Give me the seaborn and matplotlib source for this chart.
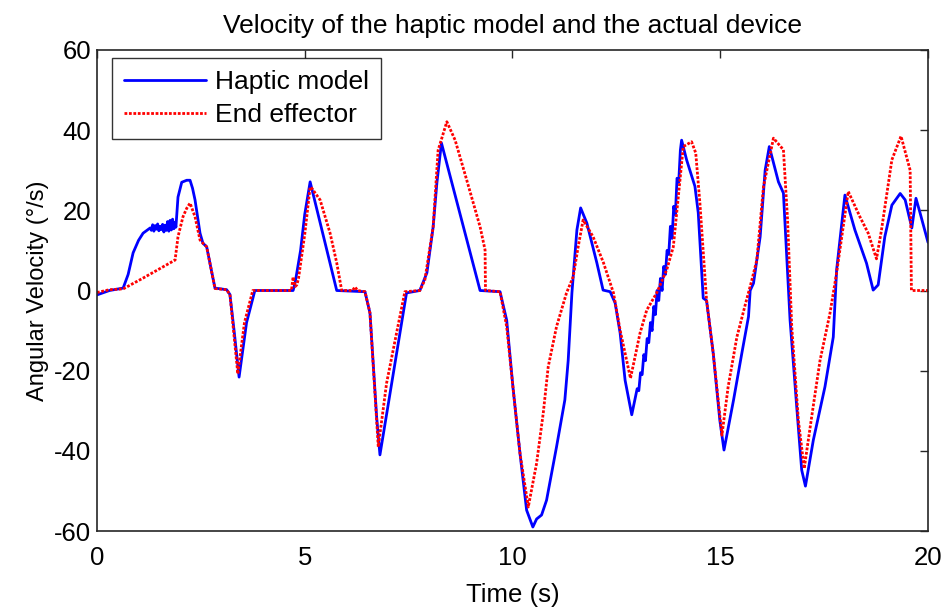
import matplotlib
matplotlib.use("Agg")
import matplotlib.pyplot as plt
import seaborn as sns
import pandas as pd

# Haptic model angular velocity (deg/s) sampled at key instants (s)
t_model = [0.0, 0.3, 0.63, 0.75, 0.87, 1.0, 1.11, 1.2, 1.28,
           1.31, 1.34, 1.37, 1.40, 1.43, 1.46, 1.49, 1.52, 1.55, 1.58, 1.61,
           1.64, 1.67, 1.70, 1.73, 1.76, 1.79, 1.82, 1.85, 1.88, 1.90,
           1.95, 2.04, 2.16, 2.24, 2.30, 2.36, 2.48, 2.55, 2.64, 2.84, 3.12,
           3.2, 3.3, 3.42, 3.6, 3.8, 4.72, 4.77, 4.9, 5.0, 5.13, 5.77, 6.45,
           6.57, 6.73, 6.81, 7.45, 7.77, 7.94, 8.09, 8.18, 8.29, 9.22, 9.70,
           9.86, 10.01, 10.18, 10.34, 10.49, 10.58, 10.70, 10.82, 11.06, 11.26,
           11.34, 11.43, 11.55, 11.64, 11.79, 12.03, 12.18, 12.35, 12.47, 12.59,
           12.71, 12.87,
           12.95, 13.00, 13.04, 13.08, 13.12, 13.16, 13.20, 13.24, 13.28, 13.32,
           13.36, 13.40, 13.44, 13.48, 13.52, 13.56, 13.60, 13.64, 13.68, 13.72,
           13.76, 13.80, 13.84, 13.88, 13.92, 13.96, 14.00, 14.04,
           14.07, 14.19, 14.39, 14.47, 14.59, 14.67, 14.83, 14.99, 15.09, 15.32,
           15.52, 15.68, 15.72, 15.80, 15.96, 16.08, 16.18, 16.40, 16.52, 16.68,
           16.84, 16.96, 17.05, 17.24, 17.52, 17.72, 17.80, 18.00, 18.24, 18.41,
           18.52, 18.68, 18.80, 18.96, 19.13, 19.33, 19.45, 19.61, 19.71, 19.81,
           20.0]
v_model = [-1.1, 0.0, 0.6, 4.0, 9.4, 12.5, 14.3, 15.0, 15.6,
           15.0, 16.4, 14.8, 16.2, 15.3, 16.6, 14.9, 16.0, 15.2, 16.5, 14.6,
           16.3, 15.0, 17.2, 14.8, 17.5, 15.1, 17.8, 15.4, 17.0, 15.8,
           23.3, 27.0, 27.5, 27.5, 25.5, 22.6, 14.3, 11.8, 10.9, 0.6, 0.2,
           -1.0, -10.0, -21.6, -8.0, 0.0, 0.0, 2.0, 10.0, 19.0, 27.1, 0.0, -0.3,
           -5.6, -31.5, -41.0, -0.6, 0.0, 4.4, 15.8, 26.8, 36.8, 0.0, -0.3,
           -7.4, -24.0, -40.6, -54.8, -59.0, -57.0, -56.0, -52.3, -39.0, -27.3,
           -17.5, -0.6, 15.1, 20.6, 16.8, 6.9, 0.1, -0.3, -3.1, -10.6,
           -22.4, -31.0,
           -27.0, -24.5, -25.0, -20.5, -21.0, -16.0, -17.5, -12.0, -13.0, -8.0,
           -10.0, -4.0, -6.0, 0.0, -2.5, 3.0, 0.0, 6.0, 4.0, 10.0,
           9.0, 16.0, 13.0, 21.0, 19.0, 28.0, 27.0, 35.0,
           37.5, 32.6, 26.0, 19.4, -1.9, -2.5, -15.6, -32.4, -39.8, -27.3,
           -15.6, -6.5, 0.0, 1.8, 13.4, 30.0, 35.9, 27.1, 24.3, -7.4,
           -29.0, -44.8, -48.8, -37.3, -24.0, -11.6, 5.1, 23.8, 15.1, 10.1,
           6.8, 0.1, 1.4, 13.4, 21.3, 24.2, 22.6, 15.6, 23.0, 19.3,
           12.0]

# End effector angular velocity (deg/s) sampled at key instants (s)
t_device = [0.0, 0.3, 0.63, 1.11, 1.59, 1.88, 1.95, 2.07, 2.16, 2.24, 2.36,
            2.48, 2.55, 2.64, 2.84, 3.12, 3.2, 3.39, 3.55, 3.75, 4.68, 4.72,
            4.77, 4.81, 4.85, 5.0, 5.13, 5.17, 5.37, 5.61, 5.77, 5.89, 6.15,
            6.21, 6.27, 6.45, 6.57, 6.77, 6.97, 7.21, 7.41, 7.77, 7.89, 8.09,
            8.21, 8.42, 8.62, 8.90, 9.22, 9.34, 9.35, 9.70, 9.86, 10.01, 10.18,
            10.38, 10.58, 10.74, 10.86, 11.06, 11.30, 11.46, 11.58, 11.70, 11.94,
            12.19, 12.43, 12.59, 12.84, 13.07, 13.23, 13.47, 13.71, 13.87, 14.03,
            14.11, 14.31, 14.41, 14.51, 14.67, 14.83, 15.04, 15.19, 15.40, 15.60,
            15.76, 15.88, 16.04, 16.28, 16.52, 16.62, 16.72, 16.88, 17.02, 17.20,
            17.40, 17.64, 17.80, 18.08, 18.36, 18.56, 18.76, 18.88, 19.13, 19.35,
            19.57, 19.60, 20.0]
v_device = [-0.5, 0.2, 0.4, 3.1, 5.9, 7.6, 13.4, 18.4, 20.5, 21.8, 18.4,
            12.6, 11.8, 10.9, 0.5, 0.2, -1.0, -20.8, -8.0, 0.0, 0.0, 3.4,
            1.0, 1.4, 3.0, 14.0, 25.8, 25.5, 22.6, 14.3, 6.9, 0.0, 0.0,
            0.9, 0.0, -0.3, -5.6, -39.0, -23.1, -10.6, -0.3, 0.0, 2.6, 15.8,
            35.0, 42.1, 37.5, 27.5, 15.9, 10.1, 0.0, -0.3, -9.0, -24.0, -40.6,
            -54.0, -43.1, -30.6, -19.0, -9.0, -0.6, 3.4, 10.9, 17.6, 13.4,
            6.9, -0.6, -9.9, -21.9, -10.6, -4.9, -0.6, 5.1, 10.9, 27.5,
            35.9, 37.1, 34.3, 21.8, -2.4, -15.6, -36.1, -24.0, -11.6, -3.6,
            2.6, 7.6, 25.9, 38.0, 35.1, 17.6, -9.0, -32.4, -44.4, -31.5,
            -17.5, -5.7, 4.4, 24.7, 18.4, 14.3, 7.9, 15.1, 32.6, 38.5,
            30.0, 0.0, 0.0]

x_ticks = [0, 5, 10, 15, 20]
y_ticks = [-60, -40, -20, 0, 20, 40, 60]

sns.set_theme(style="white")
plt.rcParams["font.family"] = ["Liberation Sans", "DejaVu Sans"]
plt.rcParams["axes.unicode_minus"] = False
plt.rcParams["axes.edgecolor"] = "#262626"
plt.rcParams["text.color"] = "black"
plt.rcParams["axes.labelcolor"] = "black"
plt.rcParams["axes.titlecolor"] = "black"

model_df = pd.DataFrame({"t": t_model, "v": v_model})
device_df = pd.DataFrame({"t": t_device, "v": v_device})

fig = plt.figure(figsize=(9.46, 6.08), dpi=100)
ax = fig.add_axes([0.1025, 0.1266, 0.8785, 0.7912])

sns.lineplot(data=model_df, x="t", y="v", ax=ax, color="#0000ff",
             linewidth=2.0, estimator=None, sort=False, label="Haptic model")
sns.lineplot(data=device_df, x="t", y="v", ax=ax, color="#ff0000",
             linewidth=2.0, estimator=None, sort=False, label="End effector")
ax.lines[1].set_dashes([1.0, 0.6])

ax.set_xlim(0, 20)
ax.set_ylim(-60, 60)
ax.set_xticks(x_ticks)
ax.set_yticks(y_ticks)
ax.tick_params(direction="in", length=6, width=1, top=True, right=True,
               labelsize=18.5, colors="#262626", labelcolor="black")
ax.tick_params(axis="x", pad=11)
ax.tick_params(axis="y", pad=4)
for s in ax.spines.values():
    s.set_linewidth(1.2)

ax.set_xlabel("Time (s)", fontsize=18.5, labelpad=9)
ax.set_ylabel("Angular Velocity (°/s)", fontsize=17, labelpad=4)
ax.set_title("Velocity of the haptic model and the actual device",
             fontsize=19, pad=12)

leg = ax.legend(loc="upper left", bbox_to_anchor=(15 / 831, 1 - 8 / 481),
                fontsize=19, frameon=True, fancybox=False,
                borderaxespad=0.0, handlelength=3.1, handletextpad=0.35,
                borderpad=0.45, labelspacing=0.35)
leg.get_frame().set_edgecolor("black")
leg.get_frame().set_linewidth(1.0)
for line in leg.get_lines():
    line.set_linewidth(2.0)

fig.savefig("out.png", dpi=100)
